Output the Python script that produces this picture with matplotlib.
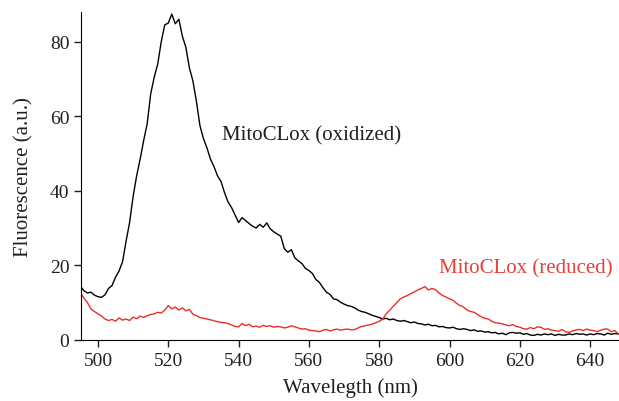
import matplotlib
matplotlib.use("Agg")
import matplotlib.pyplot as plt
import numpy as np

plt.rcParams['font.family'] = ['Liberation Serif', 'DejaVu Serif']

# wavelength (nm), 1 nm steps
wavelength = np.arange(495, 649)

# MitoCLox (oxidized)
oxidized = [
    14.4, 13.2, 12.6, 12.8, 12.0, 11.6, 11.4, 12.1, 13.8, 14.6,
    16.8, 18.5, 21.0, 26.5, 31.5, 38.5, 44.0, 48.5, 53.5, 58.0,
    66.0, 70.5, 74.0, 80.0, 84.5, 85.0, 87.4, 84.8, 86.0, 81.5,
    78.5, 73.0, 69.5, 64.0, 57.5, 54.0, 51.5, 48.5, 46.5, 44.0,
    42.5, 39.5, 37.0, 35.5, 33.5, 31.5, 32.8, 32.0, 31.2, 30.5,
    30.0, 31.0, 30.2, 31.4, 29.8, 29.0, 28.4, 27.8, 24.5, 23.5,
    24.2, 22.0, 21.2, 20.5, 19.2, 18.6, 17.8, 16.2, 15.4, 14.0,
    12.8, 12.2, 11.0, 10.8, 10.1, 9.6, 9.2, 9.0, 8.6, 8.0,
    7.6, 7.4, 7.0, 6.6, 6.3, 6.0, 5.6, 5.8, 5.4, 5.6,
    5.2, 5.0, 5.2, 4.9, 4.6, 4.8, 4.4, 4.3, 4.0, 4.2,
    3.8, 3.9, 3.5, 3.6, 3.3, 3.2, 3.4, 3.0, 2.8, 3.0,
    2.8, 2.5, 2.7, 2.3, 2.4, 2.1, 2.2, 1.9, 2.0, 1.6,
    1.8, 1.4, 1.9, 2.0, 1.8, 1.9, 1.5, 1.7, 1.3, 1.2,
    1.5, 1.3, 1.6, 1.4, 1.6, 1.2, 1.5, 1.3, 1.3, 1.6,
    1.4, 1.7, 1.5, 1.6, 1.3, 1.6, 1.4, 1.7, 1.6, 1.3,
    1.8, 1.5, 1.7, 1.6,
]

# MitoCLox (reduced)
reduced = [
    12.7, 11.2, 10.0, 8.3, 7.6, 7.0, 6.4, 5.6, 5.2, 5.5,
    5.0, 5.9, 5.3, 5.6, 5.2, 6.1, 5.7, 6.4, 6.0, 6.5,
    6.8, 7.0, 7.4, 7.2, 8.0, 9.2, 8.3, 8.8, 8.0, 8.6,
    7.8, 8.2, 6.9, 6.5, 6.0, 5.8, 5.6, 5.4, 5.1, 4.9,
    4.7, 4.6, 4.4, 4.0, 3.6, 3.5, 4.4, 3.8, 4.2, 3.5,
    3.7, 3.4, 3.9, 3.6, 3.8, 3.4, 3.6, 3.5, 3.2, 3.4,
    3.8, 3.5, 3.2, 2.9, 3.0, 2.6, 2.5, 2.4, 2.2, 2.6,
    2.8, 2.4, 2.7, 2.9, 2.6, 2.8, 2.9, 2.7, 2.8, 3.2,
    3.6, 3.8, 4.0, 4.2, 4.6, 5.0, 5.6, 7.0, 8.0, 9.0,
    10.0, 11.0, 11.5, 11.9, 12.4, 12.9, 13.4, 13.8, 14.3, 13.4,
    13.8, 13.5, 12.6, 11.9, 11.5, 11.0, 10.6, 9.8, 9.2, 8.8,
    8.0, 7.6, 7.4, 6.8, 6.2, 5.8, 5.6, 5.0, 4.6, 4.5,
    4.3, 4.0, 3.8, 4.1, 3.6, 3.4, 3.0, 2.9, 3.3, 3.0,
    3.5, 3.4, 2.8, 3.0, 2.6, 2.5, 2.3, 2.8, 2.2, 2.0,
    2.4, 2.7, 2.8, 2.5, 2.9, 2.6, 2.5, 2.2, 2.6, 2.9,
    2.9, 2.2, 2.5, 1.6,
]

xticks = [500, 520, 540, 560, 580, 600, 620, 640]
yticks = [0, 20, 40, 60, 80]

fig = plt.figure(figsize=(6.19, 4.02), dpi=100)
ax = fig.add_axes([0.131, 0.152, 0.869, 0.816])

ax.plot(wavelength, oxidized, color='black', linewidth=1.0)
ax.plot(wavelength, reduced, color='#e8302a', linewidth=1.0)

ax.set_xlim(495.2, 648.2)
ax.set_ylim(0, 88)
ax.set_xticks(xticks)
ax.set_yticks(yticks)

ax.spines['right'].set_color('none')
ax.spines['top'].set_color('none')
ax.tick_params(direction='out', length=5, width=1, labelsize=14, colors='#231f20')

ax.set_xlabel('Wavelegth (nm)', fontsize=15, color='#231f20', labelpad=6)
ax.set_ylabel('Fluorescence (a.u.)', fontsize=15, color='#231f20', labelpad=12)

ax.text(535.4, 55, 'MitoCLox (oxidized)', fontsize=15, color='#231f20', ha='left', va='center')
ax.text(596.9, 19.3, 'MitoCLox (reduced)', fontsize=15, color='#e8403a', ha='left', va='center')

fig.savefig('out.png', dpi=100)
